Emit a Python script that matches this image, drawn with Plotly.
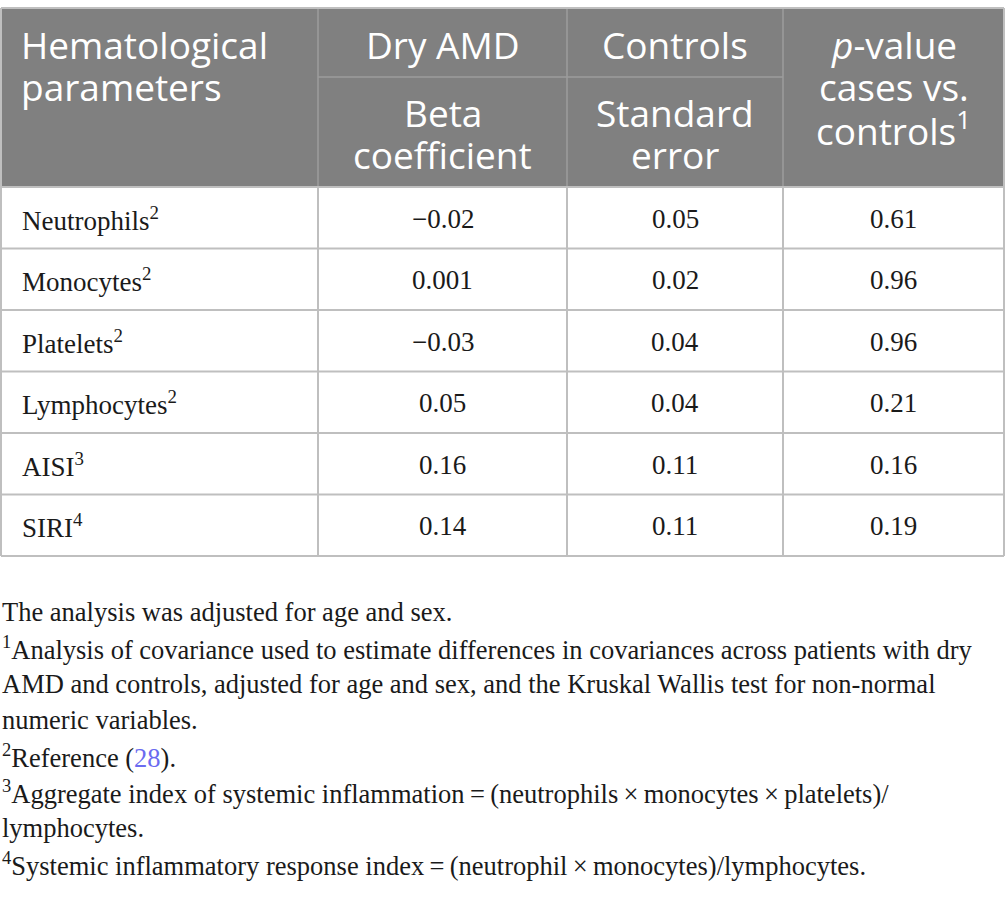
import plotly.graph_objects as go

# table content
params = ["Neutrophils", "Monocytes", "Platelets", "Lymphocytes", "AISI", "SIRI"]
param_notes = ["2", "2", "2", "2", "3", "4"]
beta = ["\u22120.02", "0.001", "\u22120.03", "0.05", "0.16", "0.14"]
std_err = ["0.05", "0.02", "0.04", "0.04", "0.11", "0.11"]
p_values = ["0.61", "0.96", "0.96", "0.21", "0.16", "0.19"]

header_first = ["Hematological", "parameters"]
header_top = ["Dry AMD", "Controls"]
header_bottom = [["Beta", "coefficient"], ["Standard", "error"]]
header_last = ["<i>p</i>-value", "cases vs.", "controls<sup>1</sup>"]

footnotes = [
    "The analysis was adjusted for age and sex.",
    "<sup>1</sup>Analysis of covariance used to estimate differences in covariances across patients with dry",
    "AMD and controls, adjusted for age and sex, and the Kruskal Wallis test for non-normal",
    "numeric variables.",
    "<sup>2</sup>Reference (<span style='color:#6b6bf0'>28</span>).",
    "<sup>3</sup>Aggregate index of systemic inflammation\u2009=\u2009(neutrophils\u2009\u00d7\u2009monocytes\u2009\u00d7\u2009platelets)/",
    "lymphocytes.",
    "<sup>4</sup>Systemic inflammatory response index\u2009=\u2009(neutrophil\u2009\u00d7\u2009monocytes)/lymphocytes.",
]

W, H = 1005, 900
col_x = [1, 318, 567, 783, 1004]
top, sub, head_bot, bottom = 8, 77, 187, 556
row_h = (bottom - head_bot) / len(params)
head_lh = 42
note_lh = 36

HEAD_BG = "#808080"
HEAD_LINE = "#9c9c9c"
GRID = "#bfbfbf"
SANS = "Open Sans"
SERIF = "Liberation Serif"

fig = go.Figure()
shapes = []
annotations = []

# header block
shapes.append(dict(type="rect", x0=col_x[0], x1=col_x[-1], y0=top, y1=head_bot,
                   fillcolor=HEAD_BG, line=dict(width=0), layer="below"))
for x in col_x[1:-1]:
    shapes.append(dict(type="line", x0=x, x1=x, y0=top, y1=head_bot,
                       line=dict(color=HEAD_LINE, width=1.5)))
shapes.append(dict(type="line", x0=col_x[1], x1=col_x[3], y0=sub, y1=sub,
                   line=dict(color=HEAD_LINE, width=1.5)))
shapes.append(dict(type="line", x0=col_x[0], x1=col_x[-1], y0=top, y1=top,
                   line=dict(color=GRID, width=2)))
for x in (col_x[0], col_x[-1]):
    shapes.append(dict(type="line", x0=x, x1=x, y0=top, y1=head_bot,
                       line=dict(color=GRID, width=2)))

# body grid
for i in range(len(params) + 1):
    y = head_bot + i * row_h
    shapes.append(dict(type="line", x0=col_x[0], x1=col_x[-1], y0=y, y1=y,
                       line=dict(color=GRID, width=2)))
for x in col_x:
    shapes.append(dict(type="line", x0=x, x1=x, y0=head_bot, y1=bottom,
                       line=dict(color=GRID, width=2)))


def head(text, x, y, xanchor="center"):
    annotations.append(dict(x=x, y=y, text=text, showarrow=False, xanchor=xanchor,
                            yanchor="middle",
                            font=dict(family=SANS, size=37, color="white")))


mid = [(col_x[i] + col_x[i + 1]) / 2 for i in range(4)]
line1 = 44
for k, t in enumerate(header_first):
    head(t, 19, line1 + k * head_lh, xanchor="left")
for j, t in enumerate(header_top):
    head(t, mid[j + 1], line1)
for j, lines in enumerate(header_bottom):
    for k, t in enumerate(lines):
        head(t, mid[j + 1], 112 + k * head_lh)
for k, t in enumerate(header_last):
    head(t, mid[3], line1 + k * head_lh)

body_font = dict(family=SERIF, size=27, color="#1a1a1a")
for i, name in enumerate(params):
    yc = head_bot + (i + 0.5) * row_h + 1
    annotations.append(dict(x=20, y=yc, text=f"{name}<sup>{param_notes[i]}</sup>",
                            showarrow=False, xanchor="left", yanchor="middle",
                            font=body_font))
    for j, vals in enumerate((beta, std_err, p_values)):
        annotations.append(dict(x=mid[j + 1], y=yc, text=vals[i], showarrow=False,
                                xanchor="center", yanchor="middle", font=body_font))

for k, line in enumerate(footnotes):
    annotations.append(dict(x=0, y=612 + k * note_lh, text=line, showarrow=False,
                            xanchor="left", yanchor="middle", align="left",
                            font=dict(family=SERIF, size=26.5, color="#1a1a1a")))

fig.update_layout(
    width=W, height=H,
    margin=dict(l=0, r=0, t=0, b=0),
    paper_bgcolor="white", plot_bgcolor="white",
    xaxis=dict(range=[0, W], visible=False, fixedrange=True),
    yaxis=dict(range=[H, 0], visible=False, fixedrange=True),
    shapes=shapes, annotations=annotations,
    showlegend=False,
)
fig.write_html("out.html", config={"displayModeBar": False},
               post_script="document.body.style.margin='0';")
